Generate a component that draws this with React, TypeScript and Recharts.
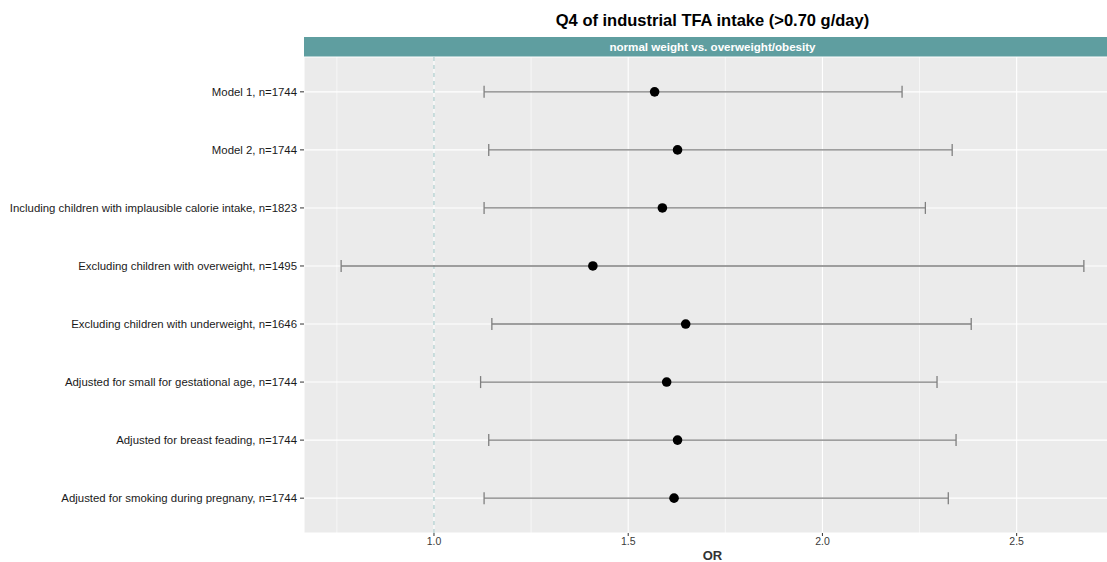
import React from 'react';
import {
  ScatterChart,
  Scatter,
  XAxis,
  YAxis,
  CartesianGrid,
  ReferenceLine,
  ErrorBar,
} from 'recharts';

const rowLabels = [
  'Model 1, n=1744',
  'Model 2, n=1744',
  'Including children with implausible calorie intake, n=1823',
  'Excluding children with overweight, n=1495',
  'Excluding children with underweight, n=1646',
  'Adjusted for small for gestational age, n=1744',
  'Adjusted for breast feading, n=1744',
  'Adjusted for smoking during pregnany, n=1744',
];
const orValues = [1.568, 1.627, 1.588, 1.409, 1.648, 1.599, 1.627, 1.618];
const lowerCI = [1.129, 1.141, 1.129, 0.761, 1.149, 1.12, 1.141, 1.129];
const upperCI = [2.205, 2.334, 2.265, 2.673, 2.383, 2.295, 2.344, 2.324];
const xTicks = [1.0, 1.5, 2.0, 2.5];
const minorXTicks = [0.75, 1.25, 1.75, 2.25, 2.75];
const rowTicks = [1, 2, 3, 4, 5, 6, 7, 8];

const title = 'Q4 of industrial TFA intake (>0.70 g/day)';
const stripText = 'normal weight vs. overweight/obesity';
const xTitle = 'OR';

const data = rowLabels.map((label, i) => ({
  row: i + 1,
  label,
  or: orValues[i],
  err: [orValues[i] - lowerCI[i], upperCI[i] - orValues[i]],
}));

const lo = Math.min(...lowerCI);
const hi = Math.max(...upperCI);
const pad = (hi - lo) * 0.05;
const xDomain = [lo - pad, hi + pad];

const CHART_W = 1121;
const CHART_H = 562;
const Y_AXIS_W = 304;
const TOP = 57;
const FONT = '"Liberation Sans", Arial, sans-serif';

const Dot = (props: any) => (
  <circle cx={props.cx} cy={props.cy} r={4.8} fill="#000000" />
);

const YTick = (props: any) => {
  const { x, y, payload } = props;
  return (
    <text
      x={x}
      y={y}
      dy="0.36em"
      textAnchor="end"
      fontSize={11.4}
      fill="#1A1A1A"
      fontFamily={FONT}
    >
      {rowLabels[payload.value - 1]}
    </text>
  );
};

const XTick = (props: any) => {
  const { x, y, payload } = props;
  return (
    <text
      x={x}
      y={y}
      dy="0.8em"
      textAnchor="middle"
      fontSize={10.5}
      fill="#3A3A3A"
      fontFamily={FONT}
    >
      {Number(payload.value).toFixed(1)}
    </text>
  );
};

export default function App() {
  return (
    <div
      style={{
        position: 'absolute',
        left: 0,
        top: 0,
        width: 1107,
        height: 562,
        overflow: 'hidden',
        background: '#ffffff',
        fontFamily: FONT,
      }}
    >
      <div
        style={{
          position: 'absolute',
          left: Y_AXIS_W,
          width: CHART_W - Y_AXIS_W,
          top: 9,
          textAlign: 'center',
          fontWeight: 'bold',
          fontSize: 16.5,
          lineHeight: '22px',
          color: '#000',
        }}
      >
        {title}
      </div>
      <div
        style={{
          position: 'absolute',
          left: Y_AXIS_W,
          width: CHART_W - Y_AXIS_W,
          top: 37,
          height: 20,
          background: '#5F9EA0',
          color: '#ffffff',
          textAlign: 'center',
          fontWeight: 'bold',
          fontSize: 11.6,
          lineHeight: '20px',
        }}
      >
        {stripText}
      </div>
      <div
        style={{
          position: 'absolute',
          left: Y_AXIS_W,
          width: CHART_W - Y_AXIS_W,
          top: 548,
          textAlign: 'center',
          fontWeight: 'bold',
          fontSize: 13,
          lineHeight: '16px',
          color: '#333333',
        }}
      >
        {xTitle}
      </div>
      <ScatterChart
        width={CHART_W}
        height={CHART_H}
        margin={{ top: TOP, right: 0, bottom: 0, left: 0 }}
      >
        <CartesianGrid
          fill="#EBEBEB"
          stroke="#FFFFFF"
          strokeWidth={1.1}
          fillOpacity={1}
        />
        {minorXTicks.map((v) => (
          <ReferenceLine
            key={'m' + v}
            x={v}
            stroke="#FFFFFF"
            strokeWidth={0.6}
            ifOverflow="hidden"
          />
        ))}
        <ReferenceLine x={1} stroke="#9CC3C3" strokeDasharray="4 4" strokeWidth={1} />
        <XAxis
          type="number"
          dataKey="or"
          domain={xDomain}
          allowDataOverflow
          ticks={xTicks}
          axisLine={false}
          tickLine={{ stroke: '#333333' }}
          tickSize={3}
          tickMargin={1}
          height={29}
          tick={XTick}
        />
        <YAxis
          type="number"
          dataKey="row"
          domain={[0.4, 8.6]}
          allowDataOverflow
          reversed
          ticks={rowTicks}
          interval={0}
          axisLine={false}
          tickLine={{ stroke: '#333333' }}
          tickSize={4}
          tickMargin={3}
          width={Y_AXIS_W}
          tick={YTick}
        />
        <Scatter data={data} shape={Dot} isAnimationActive={false}>
          <ErrorBar
            dataKey="err"
            direction="x"
            width={6}
            stroke="#7F7F7F"
            strokeWidth={1.3}
            isAnimationActive={false}
          />
        </Scatter>
      </ScatterChart>
    </div>
  );
}
